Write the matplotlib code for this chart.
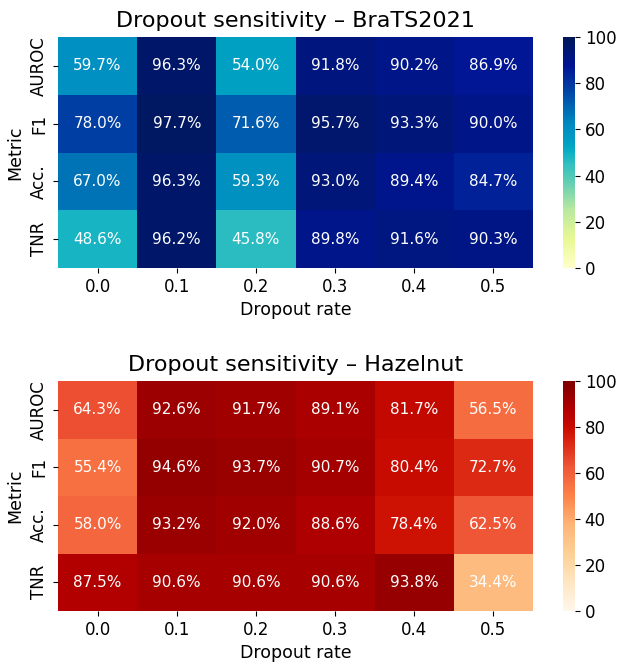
import matplotlib
matplotlib.use("Agg")
import matplotlib.pyplot as plt
import matplotlib.colors as mcolors
import seaborn as sns
import numpy as np

metrics = ["AUROC", "F1", "Acc.", "TNR"]
dropout_rates = ["0.0", "0.1", "0.2", "0.3", "0.4", "0.5"]

brats = [
    [59.7, 96.3, 54.0, 91.8, 90.2, 86.9],
    [78.0, 97.7, 71.6, 95.7, 93.3, 90.0],
    [67.0, 96.3, 59.3, 93.0, 89.4, 84.7],
    [48.6, 96.2, 45.8, 89.8, 91.6, 90.3],
]
hazelnut = [
    [64.3, 92.6, 91.7, 89.1, 81.7, 56.5],
    [55.4, 94.6, 93.7, 90.7, 80.4, 72.7],
    [58.0, 93.2, 92.0, 88.6, 78.4, 62.5],
    [87.5, 90.6, 90.6, 90.6, 93.8, 34.4],
]


def saturated(name, factor):
    base = plt.get_cmap(name)(np.linspace(0, 1, 256))[:, :3]
    hsv = mcolors.rgb_to_hsv(base)
    hsv[:, 1] = np.clip(hsv[:, 1] * factor, 0, 1)
    return mcolors.ListedColormap(mcolors.hsv_to_rgb(hsv), name=name + "_sat")


fig = plt.figure(figsize=(6.19, 6.65), dpi=100)

W, H = 619, 665
def rect(l, t, r, b):
    return [l / W, 1 - b / H, (r - l) / W, (b - t) / H]

panels = [
    (brats, saturated("YlGnBu", 1.4), "Dropout sensitivity – BraTS2021", (58, 37, 533, 268)),
    (hazelnut, saturated("OrRd", 1.1), "Dropout sensitivity – Hazelnut", (58, 381, 533, 611)),
]

for data, cmap, title, (l, t, r, b) in panels:
    ax = fig.add_axes(rect(l, t, r, b))
    cax = fig.add_axes(rect(563, t, 575, b))
    arr = np.array(data)
    annot = np.array([[f"{v:.1f}%" for v in row] for row in data])
    sns.heatmap(arr, ax=ax, cbar_ax=cax, cmap=cmap, vmin=0, vmax=100,
                annot=annot, fmt="", annot_kws={"color": "white", "fontsize": 11},
                xticklabels=dropout_rates, yticklabels=metrics)
    ax.set_title(title, fontsize=16, pad=7)
    ax.set_xlabel("Dropout rate", fontsize=12.5)
    ax.set_ylabel("Metric", fontsize=12.5)
    ax.tick_params(axis="both", labelsize=12)
    ax.set_yticklabels(metrics, rotation=90, va="center")
    ax.set_xticklabels(dropout_rates, rotation=0)
    cax.tick_params(labelsize=12)
    cax.set_yticks([0, 20, 40, 60, 80, 100])

fig.savefig("out.png", dpi=100)
